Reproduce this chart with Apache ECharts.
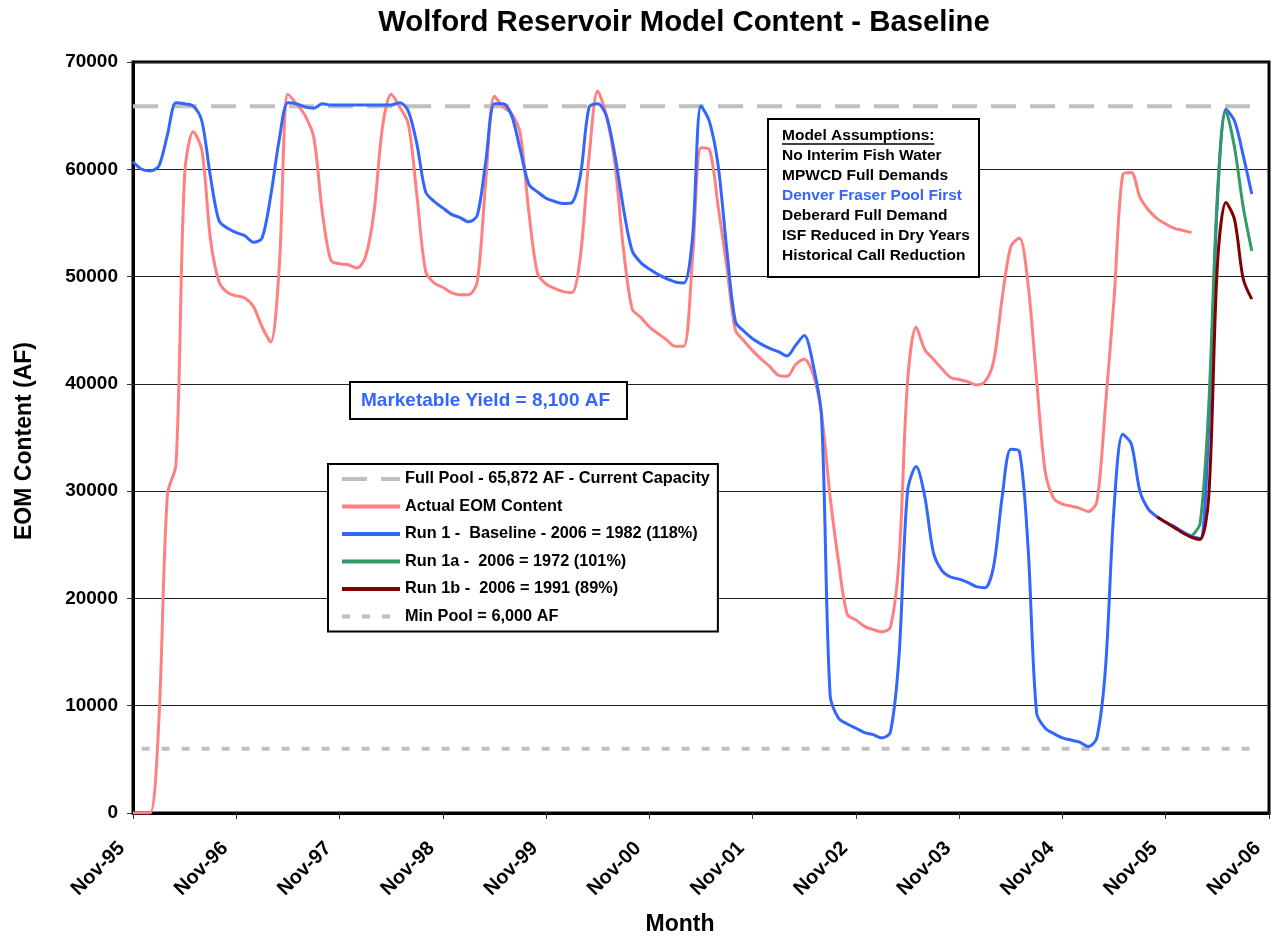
<!DOCTYPE html>
<html><head><meta charset="utf-8">
<script src="https://cdn.jsdelivr.net/npm/echarts@6/dist/echarts.min.js"></script>
<style>html,body{margin:0;padding:0;background:#fff}#c{width:1271px;height:937px}</style>
</head><body><div id="c"></div><script>
// ---- categories (monthly, Nov-95 .. Nov-06) ----
const MONTH_NAMES = ['Nov','Dec','Jan','Feb','Mar','Apr','May','Jun','Jul','Aug','Sep','Oct'];
const START_YEAR = 1995;
const N_MONTHS = 133;
const categories = [];
for (let i = 0; i < N_MONTHS; i++) {
  const yr = START_YEAR + Math.floor((i + 10) / 12);
  categories.push(MONTH_NAMES[i % 12] + '-' + String(yr % 100).padStart(2, '0'));
}
const Y_TICKS = [0, 10000, 20000, 30000, 40000, 50000, 60000, 70000];

// ---- series values (AF) ----
const actualEOM = [
0,0,0,8500,29700,32500,59500,63500,61800,53500,49500,48500,48200,48000,47200,45300,43900,51000,67000,66100,
65000,63000,56000,51500,51200,51100,50800,51800,56000,64000,67000,65800,64200,57500,50500,49400,49000,48500,48300,48300,
49500,59000,66800,65800,65200,63300,56000,50300,49300,48900,48600,48500,52000,61200,67300,65000,60500,52500,47000,46200,
45300,44700,44100,43500,43500,51500,62000,61800,56500,50900,45000,44000,43100,42300,41600,40800,40700,41800,42300,41000,
37200,29500,23300,18500,18000,17400,17100,16900,17300,23500,40200,45300,43200,42300,41400,40600,40400,40200,39900,40200,
42100,48000,52800,53600,49300,40300,31800,29300,28800,28600,28400,28100,29000,38000,48000,59500,59700,57400,56200,55400,
54900,54500,54300,54100];

const run1 = [
60700,60000,59850,60300,63200,66200,66100,65900,64500,59300,55200,54500,54100,53800,53200,53600,57500,62800,66200,66100,
65800,65700,66100,66000,66000,66000,66000,66000,66000,66000,66000,66200,65400,62300,57900,57000,56400,55800,55500,55100,
55700,60800,66100,66100,65000,61800,58600,57900,57300,57000,56800,56900,59500,65800,66100,65000,61300,56300,52400,51300,
50700,50200,49800,49500,49400,53500,65900,64400,60300,52500,45800,44900,44200,43700,43300,43000,42600,43600,44500,41900,
37000,11000,8800,8300,7900,7500,7300,7000,7500,14500,30000,32300,29500,24300,22600,22000,21800,21500,21100,21000,
23000,29500,33900,33700,24800,9300,7900,7400,7000,6800,6600,6200,7000,13500,28500,35300,34400,30000,28300,27600,
27100,26700,26200,25800,25600,36000,57000,65600,64500,61300,57700];

const RUN1A_START = 123;
const run1a = [25800,27000,38000,57500,65400,62000,56500,52400];

const RUN1B_START = 119;
const run1b = [27600,27100,26600,26100,25700,25500,29500,51000,56900,55300,49800,47900];

const FULL_POOL = 65872;
const MIN_POOL = 6000;
const POOL_LINE_FROM = 0, MIN_LINE_FROM = 1, POOL_LINE_TO = 130;

const ASSUMPTIONS = ['No Interim Fish Water','MPWCD Full Demands','Denver Fraser Pool First','Deberard Full Demand','ISF Reduced in Dry Years','Historical Call Reduction'];
const ASSUMPTION_COLORS = ['#000','#000','#3366FF','#000','#000','#000'];

// ---- helpers ----
function pad(start, arr) { const out = new Array(start).fill(null); return out.concat(arr); }
const FONT = '"Liberation Sans", Arial, Helvetica, sans-serif';

const chart = echarts.init(document.getElementById('c'), null, {renderer: 'canvas'});

const ctx = document.createElement('canvas').getContext('2d');
ctx.font = 'bold 15.5px ' + FONT;
const ulWidth = ctx.measureText('Model Assumptions:').width;

const graphics = [
  {type: 'text', x: 684, y: 23, z: 100, style: {text: 'Wolford Reservoir Model Content - Baseline', font: 'bold 29.3px ' + FONT, fill: '#000', align: 'center', verticalAlign: 'middle'}},
  {type: 'text', x: 25, y: 441, rotation: Math.PI / 2, z: 100, style: {text: 'EOM Content (AF)', font: 'bold 23px ' + FONT, fill: '#000', align: 'center', verticalAlign: 'middle'}},
  {type: 'text', x: 680, y: 925, z: 100, style: {text: 'Month', font: 'bold 23px ' + FONT, fill: '#000', align: 'center', verticalAlign: 'middle'}},
  {type: 'rect', x: 350, y: 382, z: 100, shape: {width: 277, height: 37}, style: {fill: '#fff', stroke: '#000', lineWidth: 2}},
  {type: 'text', x: 361, y: 401, z: 101, style: {text: 'Marketable Yield = 8,100 AF', font: 'bold 19px ' + FONT, fill: '#3366FF', align: 'left', verticalAlign: 'middle'}},
  {type: 'rect', x: 768, y: 119, z: 100, shape: {width: 211, height: 158}, style: {fill: '#fff', stroke: '#000', lineWidth: 2}},
  {type: 'text', x: 782, y: 136, z: 101, style: {text: 'Model Assumptions:', font: 'bold 15.5px ' + FONT, fill: '#000', align: 'left', verticalAlign: 'middle'}},
  {type: 'line', z: 101, shape: {x1: 782, y1: 144, x2: 782 + ulWidth, y2: 144}, style: {stroke: '#000', lineWidth: 1.3}}
];
ASSUMPTIONS.forEach((t, i) => {
  graphics.push({type: 'text', x: 782, y: 156 + i * 20, z: 101, style: {text: t, font: 'bold 15.5px ' + FONT, fill: ASSUMPTION_COLORS[i], align: 'left', verticalAlign: 'middle'}});
});

const option = {
  animation: false,
  backgroundColor: '#fff',
  grid: {left: 133, right: 2, top: 62, bottom: 124, show: true, borderColor: '#000', borderWidth: 3, backgroundColor: 'transparent'},
  legend: {
    orient: 'vertical', left: 328, top: 464, padding: [7, 8, 7, 12],
    itemWidth: 58, itemHeight: 14, itemGap: 11.5,
    borderColor: '#000', borderWidth: 2, backgroundColor: '#fff', z: 50,
    itemStyle: {opacity: 0},
    lineStyle: {width: 4},
    textStyle: {fontFamily: FONT, fontWeight: 'bold', fontSize: 16.3, color: '#000'},
    data: ['Full Pool - 65,872 AF - Current Capacity', 'Actual EOM Content', 'Run 1 -  Baseline - 2006 = 1982 (118%)', 'Run 1a -  2006 = 1972 (101%)', 'Run 1b -  2006 = 1991 (89%)', 'Min Pool = 6,000 AF']
  },
  xAxis: {
    type: 'category', data: categories, boundaryGap: false,
    axisLine: {lineStyle: {color: '#000', width: 3}},
    axisTick: {interval: 11, length: 6, lineStyle: {color: '#333', width: 1}},
    axisLabel: {interval: 11, rotate: 45, margin: 21, padding: [0, 16, 0, 0], fontFamily: FONT, fontWeight: 'bold', fontSize: 20, color: '#000'},
    splitLine: {show: false}
  },
  yAxis: {
    type: 'value', min: Y_TICKS[0], max: Y_TICKS[Y_TICKS.length - 1], interval: 10000,
    axisLine: {show: true, lineStyle: {color: '#000', width: 3}},
    axisTick: {show: true, length: 6, lineStyle: {color: '#333'}},
    axisLabel: {margin: 15, formatter: v => String(v), fontFamily: FONT, fontWeight: 'bold', fontSize: 19, color: '#000'},
    splitLine: {show: true, lineStyle: {color: '#222', width: 1}}
  },
  graphic: graphics,
  series: [
    {name: 'Full Pool - 65,872 AF - Current Capacity', type: 'line', symbol: 'none', z: 2,
     data: [[categories[POOL_LINE_FROM], FULL_POOL], [categories[POOL_LINE_TO], FULL_POOL]],
     lineStyle: {color: '#C0C0C0', width: 4, type: [25, 14]}, itemStyle: {color: '#C0C0C0'}},
    {name: 'Actual EOM Content', type: 'line', symbol: 'none', smooth: 0.3, z: 3, data: actualEOM,
     lineStyle: {color: '#FF8080', width: 3}, itemStyle: {color: '#FF8080'}},
    {name: 'Run 1 -  Baseline - 2006 = 1982 (118%)', type: 'line', symbol: 'none', smooth: 0.3, z: 4, data: run1,
     lineStyle: {color: '#3366FF', width: 3}, itemStyle: {color: '#3366FF'}},
    {name: 'Run 1a -  2006 = 1972 (101%)', type: 'line', symbol: 'none', smooth: 0.3, z: 5, data: pad(RUN1A_START, run1a),
     lineStyle: {color: '#339966', width: 3}, itemStyle: {color: '#339966'}},
    {name: 'Run 1b -  2006 = 1991 (89%)', type: 'line', symbol: 'none', smooth: 0.3, z: 6, data: pad(RUN1B_START, run1b),
     lineStyle: {color: '#800000', width: 3}, itemStyle: {color: '#800000'}},
    {name: 'Min Pool = 6,000 AF', type: 'line', symbol: 'none', z: 2,
     data: [[categories[MIN_LINE_FROM], MIN_POOL], [categories[POOL_LINE_TO], MIN_POOL]],
     lineStyle: {color: '#C0C0C0', width: 4, type: [8, 12]}, itemStyle: {color: '#C0C0C0'}}
  ]
};
chart.setOption(option);
</script></body></html>
